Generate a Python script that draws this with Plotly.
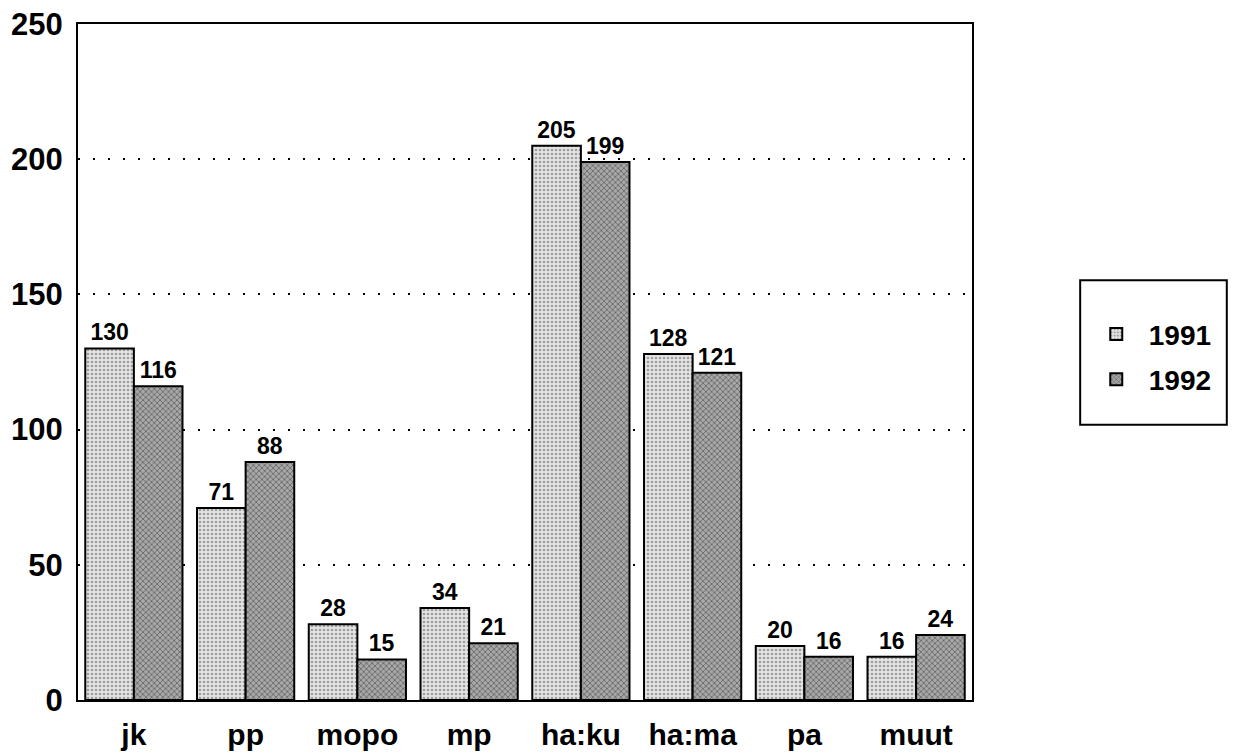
import plotly.graph_objects as go

categories = ["jk", "pp", "mopo", "mp", "ha:ku", "ha:ma", "pa", "muut"]
values_1991 = [130, 71, 28, 34, 205, 128, 20, 16]
values_1992 = [116, 88, 15, 21, 199, 121, 16, 24]
y_ticks = [0, 50, 100, 150, 200, 250]

FONT = "Liberation Sans, Arial, sans-serif"

fig = go.Figure()
fig.add_trace(go.Bar(
    name="1991", x=categories, y=values_1991, legendgroup="a",
    text=[str(v) for v in values_1991], textposition="outside",
    textfont=dict(family=FONT, size=23, color="black", weight="bold"),
    marker=dict(color="#e4e4e4", line=dict(color="black", width=2),
                pattern=dict(shape=".", fgcolor="#555555", size=4, solidity=0.35)),
    cliponaxis=False,
))
fig.add_trace(go.Bar(
    name="1992", x=categories, y=values_1992, legendgroup="b",
    text=[str(v) for v in values_1992], textposition="outside",
    textfont=dict(family=FONT, size=23, color="black", weight="bold"),
    marker=dict(color="#a8a8a8", line=dict(color="black", width=2),
                pattern=dict(shape="x", fgcolor="#2a2a2a", size=4, solidity=0.4)),
    cliponaxis=False,
))

fig.update_layout(
    width=1245, height=755,
    margin=dict(l=70, r=281, t=16, b=63, autoexpand=False),
    paper_bgcolor="white", plot_bgcolor="white",
    barmode="group", bargap=0.13, bargroupgap=0,
    font=dict(family=FONT, color="black"),
    showlegend=True,
    legend=dict(x=1.125, y=0.578, xanchor="left", yanchor="top",
                font=dict(family=FONT, size=28, color="black", weight="bold"),
                bgcolor="rgba(0,0,0,0)", borderwidth=0, tracegroupgap=6,
                itemwidth=55, itemsizing="constant"),
    shapes=[dict(type="rect", xref="paper", yref="paper",
                 x0=1.121, x1=1.285, y0=0.407, y1=0.621,
                 line=dict(color="black", width=2), fillcolor="rgba(0,0,0,0)")],
    xaxis=dict(showline=True, mirror=True, linecolor="black", linewidth=2,
               ticks="", showgrid=False, ticklabelstandoff=7, automargin=False,
               ticklabeloverflow="allow",
               tickfont=dict(family=FONT, size=30, color="black", weight="bold")),
    yaxis=dict(range=[0, 250], tickvals=y_ticks, showline=True, mirror=True,
               linecolor="black", linewidth=2, ticks="", automargin=False,
               ticklabeloverflow="allow",
               showgrid=True, gridcolor="black", griddash="2px,13px", gridwidth=2,
               zeroline=False, ticklabelstandoff=7,
               tickfont=dict(family=FONT, size=31, color="black", weight="bold")),
)

fig.write_html("out.html")
